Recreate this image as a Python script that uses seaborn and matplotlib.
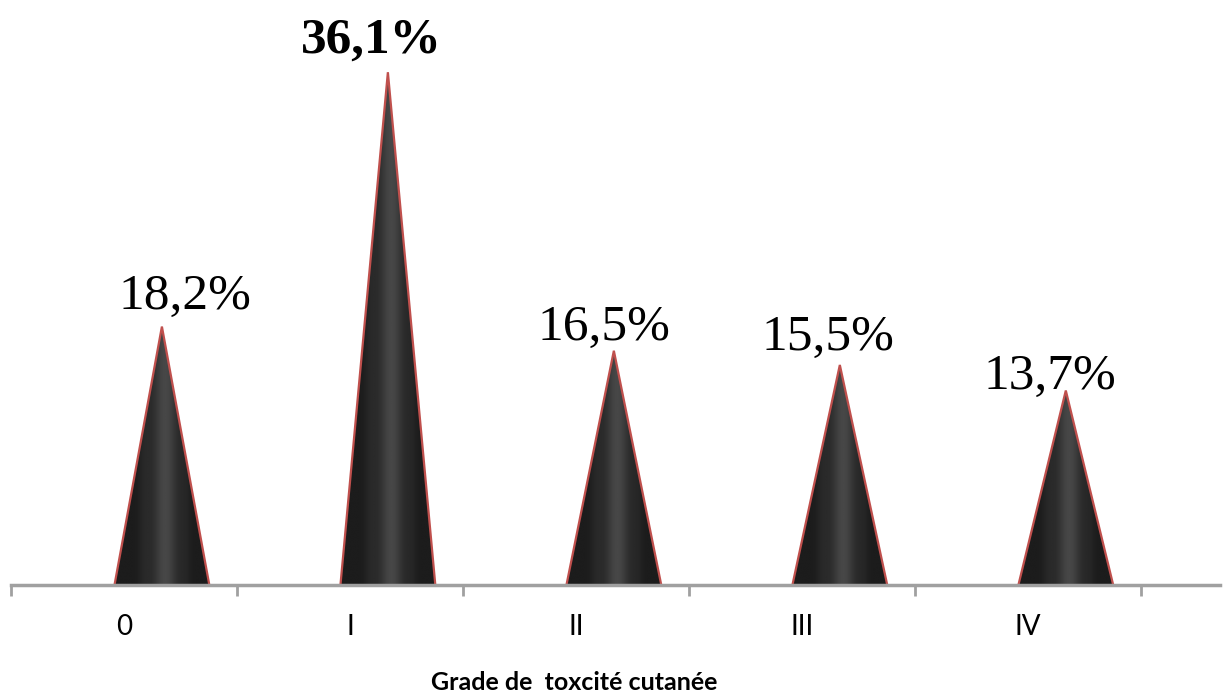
import numpy as np
import matplotlib
matplotlib.use("Agg")
import matplotlib.pyplot as plt
from matplotlib.patches import Polygon
import seaborn as sns
import pandas as pd

# Skin-toxicity grade distribution (%)
grades = ["0", "I", "II", "III", "IV"]
percentages = [18.2, 36.1, 16.5, 15.5, 13.7]
value_labels = ["18,2%", "36,1%", "16,5%", "15,5%", "13,7%"]
highlight = [False, True, False, False, False]
axis_title = "Grade de  toxcité cutanée"

# label placement relative to each cone tip, in pixels (dx, dy)
label_offsets = [(23, 18), (-16, 20), (-10, 11), (-12, 15), (-16, 2)]

sns.set_theme(style="white")
plt.rcParams["font.family"] = ["Lato", "DejaVu Sans"]

df = pd.DataFrame({"grade": grades, "pct": percentages})

fig = plt.figure(figsize=(12.31, 6.95), dpi=100)
ax = fig.add_axes([0.0089, 0.158, 0.9821, 0.8178])

sns.barplot(data=df, x="grade", y="pct", ax=ax, width=0.42, color="black")

# depth offset of the cones relative to the category slots
shift = 0.168

# horizontal shading profile for the cones (dark edges, lit centre band)
u = np.linspace(-1, 1, 400)
shade = (0.11 + 0.17 * np.exp(-((u - 0.08) / 0.26) ** 2)
         + 0.04 * np.exp(-((u + 0.35) / 0.14) ** 2)
         + 0.03 * np.exp(-((u - 0.5) / 0.12) ** 2))
shade = np.tile(shade, (50, 1))

tips = []
for bar in list(ax.patches):
    x0 = bar.get_x() + shift
    w = bar.get_width()
    h = bar.get_height()
    bar.set_visible(False)
    cone = Polygon([[x0, 0], [x0 + w / 2, h], [x0 + w, 0]], closed=True,
                   facecolor="none", edgecolor="#c0504d", linewidth=1.6,
                   zorder=4)
    ax.add_patch(cone)
    img = ax.imshow(shade, extent=[x0, x0 + w, 0, h], aspect="auto",
                    cmap="gray", vmin=0, vmax=1, origin="lower", zorder=3,
                    interpolation="bilinear")
    img.set_clip_path(cone)
    tips.append((x0 + w / 2, h))

# value labels above the tips
for (tx, ty), txt, hl, (dx, dy) in zip(tips, value_labels, highlight,
                                       label_offsets):
    ax.annotate(txt, xy=(tx, ty), xytext=(dx, dy),
                textcoords="offset pixels", ha="center", va="baseline",
                family=["Liberation Serif"], fontsize=37,
                fontweight="bold" if hl else "normal", color="black",
                annotation_clip=False, zorder=5)

ax.set_xlim(-0.5, 4.85)
ax.set_ylim(0, 40)

# axis styling: only a grey baseline with tick marks between categories
for side in ("top", "right", "left"):
    ax.spines[side].set_visible(False)
ax.spines["bottom"].set_color("#a0a0a0")
ax.spines["bottom"].set_linewidth(2.5)
ax.spines["bottom"].set_zorder(6)
ax.set_yticks([])
ax.set_ylabel("")

ax.set_xticks(range(len(grades)))
ax.set_xticklabels(grades)
ax.set_xticks(np.arange(-0.5, 5.0, 1.0), minor=True)
ax.tick_params(axis="x", which="major", length=0, pad=21,
               labelsize=20, labelcolor="black")
ax.tick_params(axis="x", which="minor", length=8, width=2,
               color="#a0a0a0", direction="out", bottom=True)

ax.set_xlabel(axis_title, fontsize=18, fontweight="bold", color="black")
ax.xaxis.set_label_coords(0.466, -0.1707)
ax.xaxis.label.set_va("center")

fig.savefig("out.png", dpi=100)
